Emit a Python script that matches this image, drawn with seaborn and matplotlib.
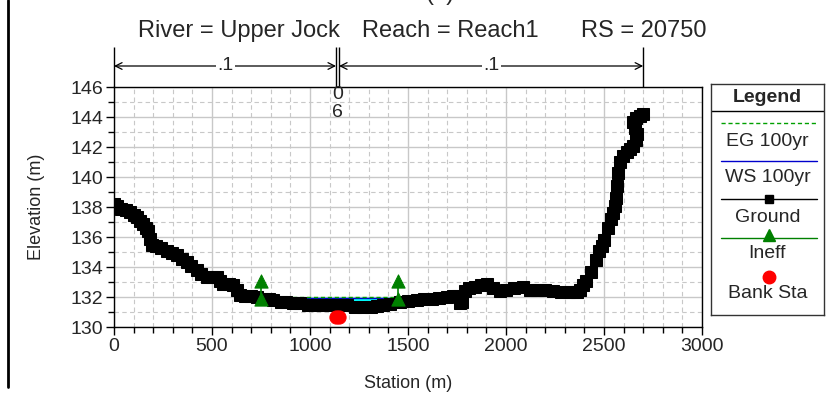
import numpy as np
import pandas as pd
import seaborn as sns
import matplotlib.pyplot as plt
from matplotlib.lines import Line2D
from matplotlib.ticker import MultipleLocator

# -------------------- Data --------------------
ground_sta = [0, 15, 35, 60, 82, 100, 116, 135, 150, 165, 175, 184, 195, 215, 240,
              269, 295, 320, 345, 371, 395, 422, 445, 473, 500, 524, 540, 558, 585,
              609, 625, 643, 670, 700, 728, 760, 790, 813, 850, 880, 915, 949, 990,
              1034, 1070, 1110, 1153, 1190, 1230, 1272, 1310, 1340, 1374, 1410, 1459,
              1500, 1544, 1580, 1620, 1660, 1700, 1730, 1755, 1765, 1775, 1790, 1810,
              1840, 1870, 1903, 1935, 1969, 2000, 2040, 2087, 2120, 2160, 2200, 2240,
              2280, 2320, 2342, 2360, 2376, 2395, 2410, 2435, 2459, 2476, 2490, 2502,
              2520, 2535, 2545, 2556, 2562, 2568, 2573, 2580, 2595, 2615, 2635, 2650,
              2665, 2668, 2658, 2650, 2662, 2685, 2700]
ground_elev = [138.2, 138.1, 137.9, 137.8, 137.7, 137.5, 137.35, 137.1, 136.9, 136.6,
               136.4, 135.9, 135.5, 135.4, 135.25, 135.1, 134.95, 134.8, 134.55, 134.35,
               134.1, 133.8, 133.55, 133.3, 133.3, 133.35, 133.1, 132.9, 132.85, 132.8,
               132.5, 132.15, 132.1, 132.05, 132.0, 131.9, 131.85, 131.8, 131.7, 131.7,
               131.6, 131.58, 131.5, 131.47, 131.5, 131.5, 131.5, 131.45, 131.35, 131.3,
               131.35, 131.4, 131.47, 131.55, 131.7, 131.75, 131.78, 131.85, 131.9,
               131.95, 132.0, 132.05, 132.1, 131.6, 131.7, 132.4, 132.6, 132.65, 132.8,
               132.9, 132.6, 132.4, 132.5, 132.6, 132.7, 132.5, 132.45, 132.45, 132.4,
               132.35, 132.3, 132.3, 132.35, 132.5, 132.8, 133.1, 133.7, 134.5, 135.1,
               135.4, 135.8, 136.6, 137.2, 137.6, 138.1, 138.6, 139.4, 140.3, 141.0,
               141.4, 141.7, 141.85, 142.1, 142.5, 142.9, 143.3, 143.7, 143.95, 144.05,
               144.2]

ws_sta = [665, 1775]
ws_elev = 131.95
eg_elev = 131.97

ineff_sta = [750, 750, 1450, 1450]
ineff_elev = [133.1, 131.9, 133.1, 131.9]
ineff_id = [0, 0, 1, 1]

bank_sta = [1133, 1148]
bank_elev = [130.68, 130.68]

n_breaks = [0, 1133, 1148, 2700]
n_values = [".1", ".1"]

title_parts = ["River = Upper Jock", "Reach = Reach1", "RS = 20750"]

# -------------------- Style --------------------
sns.set_style("white")
plt.rcParams['font.family'] = ['Liberation Sans', 'DejaVu Sans']

fig = plt.figure(figsize=(8.26, 3.93), dpi=100)
ax = fig.add_axes([114 / 826, 1 - 327 / 393, 588 / 826, 240 / 393])

ground = pd.DataFrame({"sta": ground_sta, "elev": ground_elev})
ineff = pd.DataFrame({"sta": ineff_sta, "elev": ineff_elev, "id": ineff_id})

# water fill between ground and WS
wet = ground[(ground.sta >= ws_sta[0]) & (ground.sta <= ws_sta[1])]
xs = np.linspace(ws_sta[0], ws_sta[1], 400)
gs = np.interp(xs, wet.sta, wet.elev)
ax.fill_between(xs, gs, ws_elev, where=gs < ws_elev, color="#00ffff", lw=0, zorder=2)

sns.lineplot(x=ws_sta, y=[ws_elev] * 2, color="#0000cc", lw=1, ax=ax, zorder=3)
sns.lineplot(x=ws_sta, y=[eg_elev] * 2, color="#00a000", lw=1, ls=(0, (3, 2)), ax=ax, zorder=3)

sns.lineplot(data=ground, x="sta", y="elev", sort=False, estimator=None, color="black",
             lw=0.8, marker="s", markersize=8.5, markeredgecolor="black", ax=ax, zorder=4)

sns.lineplot(data=ineff, x="sta", y="elev", units="id", estimator=None, sort=False,
             color="#008000", lw=1.2, ax=ax, zorder=5)
sns.scatterplot(data=ineff, x="sta", y="elev", marker="^", s=90, color="#008000",
                edgecolor="#008000", ax=ax, zorder=6)

sns.scatterplot(x=bank_sta, y=bank_elev, marker="o", s=90, color="#ff0000",
                edgecolor="#ff0000", ax=ax, zorder=6, clip_on=False)

# -------------------- Axes --------------------
ax.set_xlim(0, 3000)
ax.set_ylim(130, 146)
ax.xaxis.set_major_locator(MultipleLocator(500))
ax.xaxis.set_minor_locator(MultipleLocator(100))
ax.yaxis.set_major_locator(MultipleLocator(2))
ax.yaxis.set_minor_locator(MultipleLocator(1))
ax.grid(which="major", color="#c8c8c8", lw=1, ls="-", zorder=0)
ax.grid(which="minor", color="#c8c8c8", lw=0.8, ls=(0, (4, 3)), zorder=0)
ax.set_axisbelow(True)
ax.tick_params(which="major", direction="out", length=6, width=1, labelsize=14,
               bottom=True, left=True, color="black", pad=2)
ax.tick_params(which="minor", direction="out", length=4, width=1,
               bottom=True, left=True, color="black")
for sp in ax.spines.values():
    sp.set_color("black")
    sp.set_linewidth(1)

ax.set_xlabel("Station (m)", fontsize=13)
ax.set_ylabel("Elevation (m)", fontsize=13)
ax.xaxis.set_label_coords(0.5, -0.20)
ax.yaxis.set_label_coords(-0.118, 0.5)

# -------------------- Manning's n annotation --------------------
ax.vlines(n_breaks, 146, 148.65, colors="black", lw=1, clip_on=False)
for (a, b), lab in zip([(n_breaks[0], n_breaks[1]), (n_breaks[2], n_breaks[3])], n_values):
    ax.annotate("", xy=(a, 147.4), xytext=(b, 147.4), annotation_clip=False,
                arrowprops=dict(arrowstyle="<->", color="black", lw=0.9,
                                shrinkA=0, shrinkB=0, mutation_scale=12))
    ax.text((a + b) / 2, 147.4, lab, ha="center", va="center", fontsize=14,
            bbox=dict(facecolor="white", edgecolor="none", pad=1), clip_on=False)
ax.text(1140, 145.47, "0", ha="center", va="center", fontsize=14)
ax.text(1140, 144.33, "6", ha="center", va="center", fontsize=14)

# -------------------- Titles --------------------
for x0, txt in zip([138, 362, 581], title_parts):
    fig.text(x0 / 826, 1 - 37 / 393, txt, ha="left", va="baseline", fontsize=17)
fig.text(440 / 826, 1.0, "(a)", ha="center", va="baseline", fontsize=17)
fig.add_artist(Line2D([8 / 826] * 2, [1, 1 - 387 / 393], color="black", lw=2))

# -------------------- Legend box --------------------
lg = fig.add_axes([711 / 826, 1 - 315 / 393, 113 / 826, 231 / 393])
lg.set_xlim(0, 113)
lg.set_ylim(231, 0)
lg.set_xticks([])
lg.set_yticks([])
for sp in lg.spines.values():
    sp.set_color("#333333")
    sp.set_linewidth(1)
lg.axhline(27, color="black", lw=1)
lg.text(56.5, 13, "Legend", ha="center", va="center", fontsize=14, fontweight="bold")
lg.plot([10, 106], [39, 39], color="#00a000", lw=1, ls=(0, (3, 2)))
lg.text(56.5, 57, "EG 100yr", ha="center", va="center", fontsize=14)
lg.plot([10, 106], [77, 77], color="#0000cc", lw=1)
lg.text(56.5, 94, "WS 100yr", ha="center", va="center", fontsize=14)
lg.plot([10, 106], [115, 115], color="black", lw=1)
lg.plot([58], [115], marker="s", color="black", markersize=6)
lg.text(56.5, 133, "Ground", ha="center", va="center", fontsize=14)
lg.plot([10, 106], [154, 154], color="#008000", lw=1)
lg.plot([58], [151], marker="^", color="#008000", markersize=9)
lg.text(56.5, 170, "Ineff", ha="center", va="center", fontsize=14)
lg.plot([58], [193], marker="o", color="#ff0000", markersize=9)
lg.text(56.5, 209, "Bank Sta", ha="center", va="center", fontsize=14)

fig.savefig("out.png", dpi=100)
